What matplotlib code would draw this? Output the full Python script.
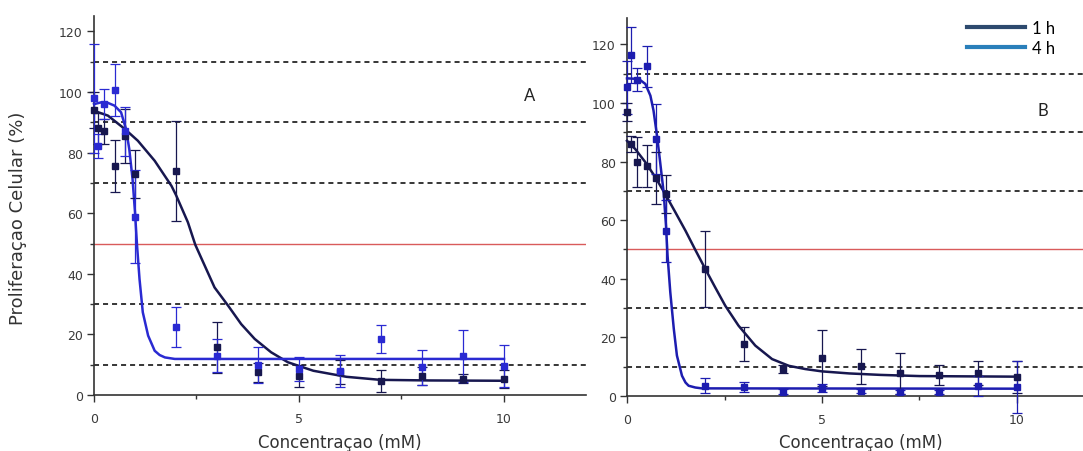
import matplotlib
matplotlib.use("Agg")
import matplotlib.pyplot as plt
from matplotlib.lines import Line2D
from matplotlib.ticker import MultipleLocator

# ---------------- data ----------------
conc = [0, 0.1, 0.25, 0.5, 0.75, 1, 2, 3, 4, 5, 6, 7, 8, 9, 10]

# Panel A
a_1h_y = [94, 88, 87, 75.5, 85.5, 73, 74, 15.7, 7.5, 6.3, 7.6, 4.6, 6.3, 5.3, 5.3]
a_1h_err = [6, 5, 4, 8.5, 9, 8, 16.5, 8.5, 3.2, 3.5, 4, 3.5, 3, 1.5, 3]
a_4h_y = [98, 82.3, 96, 100.7, 87, 58.9, 22.4, 13, 9.9, 8.6, 7.9, 18.5, 9.2, 12.8, 9.6]
a_4h_err = [18, 4, 5, 8.5, 8, 15.5, 6.5, 5.5, 5.8, 4, 5.3, 4.5, 5.8, 8.5, 7]

a_1h_fit_x = [0, 0.34, 0.75, 1.07, 1.48, 1.89, 2.0, 2.29, 2.47, 2.7, 2.94, 3.27,
              3.59, 3.92, 4.32, 4.73, 5.35, 6.16, 6.98, 8.2, 10]
a_1h_fit_y = [93.8, 92.2, 87.8, 83.9, 77.3, 69, 66, 57, 49.6, 42.7, 35.5, 29.5,
              23.4, 18.5, 14.1, 10.8, 8, 6, 5, 4.8, 4.7]
a_4h_fit_x = [0, 0.18, 0.34, 0.5, 0.66, 0.78, 0.86, 0.94, 1.0, 1.05, 1.11, 1.19,
              1.32, 1.48, 1.6, 1.73, 1.97, 10]
a_4h_fit_y = [96, 96.6, 96.4, 95.5, 93.3, 87.8, 81.2, 71.3, 60.3, 49.3, 38.3, 27.3,
              19.6, 14.6, 13.2, 12.4, 11.9, 11.9]

# Panel B
b_1h_y = [97, 86, 79.8, 78.4, 74.3, 69, 43.3, 17.7, 9.2, 12.9, 10.2, 7.8, 7.2, 7.8, 6.5]
b_1h_err = [3, 2.8, 8.5, 7.2, 8.8, 6.5, 13, 5.7, 1.5, 9.5, 6, 7, 3.5, 4, 5.5]
b_4h_y = [105.4, 116.4, 108, 112.5, 87.7, 56.4, 3.5, 3, 1.5, 2.7, 1.7, 1.4, 1.4, 3.4, 3.1]
b_4h_err = [9, 9.5, 4, 7, 12, 10.5, 2.5, 1.7, 0.8, 1.5, 0.8, 0.8, 0.8, 3.4, 9]

b_1h_fit_x = [0, 0.21, 0.47, 0.73, 0.98, 1.24, 1.5, 1.75, 2.01, 2.26, 2.52, 2.86,
              3.29, 3.72, 4.15, 4.57, 5.0, 5.7, 6.5, 7.5, 10]
b_1h_fit_y = [87.1, 84.3, 79.8, 74.6, 68.9, 62.7, 56.4, 49.9, 43.3, 37.1, 30.8, 24,
              17.2, 12.6, 10.3, 9.2, 8.4, 7.7, 7.2, 6.8, 6.6]
b_4h_fit_x = [0, 0.3, 0.47, 0.6, 0.68, 0.77, 0.85, 0.94, 1.0, 1.04, 1.11, 1.2,
              1.28, 1.41, 1.5, 1.58, 1.75, 1.92, 10]
b_4h_fit_y = [108.4, 108.2, 106.5, 102.5, 97.4, 88.8, 79.8, 69.5, 58.1, 47.9, 35.4, 22.9,
              13.8, 6.9, 4.6, 3.5, 2.9, 2.6, 2.5]

ref_dashed = [110, 90, 70, 30, 10]
ref_red = 50
y_ticks = [0, 20, 40, 60, 80, 100, 120]
x_ticks = [0, 5, 10]
legend_labels = ["1 h", "4 h"]
panel_labels = ["A", "B"]
xlabel = "Concentraçao (mM)"
ylabel = "Proliferaçao Celular (%)"

# ---------------- styles ----------------
W, H = 1083, 452
C_1H = "#17174f"
C_4H_A = "#2a2ad2"
C_4H_B = "#1d1db0"
AX_C = "#333333"

plt.rcParams["font.family"] = ["DejaVu Sans"]

fig = plt.figure(figsize=(W / 100, H / 100), dpi=100)
axA = fig.add_axes([94 / W, (H - 396) / H, 492 / W, 378.75 / H])
axB = fig.add_axes([627 / W, (H - 397) / H, 468 / W, 378.0 / H])


def style_axes(ax, ymax):
    ax.set_xlim(0, 12)
    ax.set_ylim(0, ymax)
    for s in ["top", "right"]:
        ax.spines[s].set_visible(False)
    for s in ["left", "bottom"]:
        ax.spines[s].set_color(AX_C)
        ax.spines[s].set_linewidth(1.2)
    ax.set_xticks(x_ticks)
    ax.set_yticks(y_ticks)
    ax.xaxis.set_minor_locator(MultipleLocator(2.5))
    ax.yaxis.set_minor_locator(MultipleLocator(10))
    ax.tick_params(axis="both", which="major", direction="out", length=5,
                   width=1.0, color=AX_C, labelsize=9, labelcolor="#3a3a3a")
    ax.tick_params(axis="x", which="major", pad=7)
    ax.tick_params(axis="y", which="major", pad=3)
    ax.tick_params(axis="both", which="minor", direction="out", length=3,
                   width=1.0, color=AX_C)
    for yv in ref_dashed:
        ax.axhline(yv, color="black", lw=1.1, ls=(0, (3.3, 2.6)), zorder=1)
    ax.axhline(ref_red, color="#d95b5b", lw=1.0, zorder=1)


def draw_series(ax, y, err, fx, fy, color):
    ax.plot(fx, fy, color=color, lw=1.8, zorder=3, clip_on=False)
    ax.errorbar(conc, y, yerr=err, fmt="s", ms=3.8, color=color, ecolor=color,
                elinewidth=0.9, capsize=3.5, capthick=0.9, zorder=4, clip_on=False)


style_axes(axA, 125)
style_axes(axB, 129)

draw_series(axA, a_1h_y, a_1h_err, a_1h_fit_x, a_1h_fit_y, C_1H)
draw_series(axA, a_4h_y, a_4h_err, a_4h_fit_x, a_4h_fit_y, C_4H_A)
draw_series(axB, b_1h_y, b_1h_err, b_1h_fit_x, b_1h_fit_y, C_1H)
draw_series(axB, b_4h_y, b_4h_err, b_4h_fit_x, b_4h_fit_y, C_4H_B)

axA.text(10.63, 99, panel_labels[0], ha="center", va="center",
         fontsize=12, family="Lato", color="#222222")
axB.text(10.67, 97.6, panel_labels[1], ha="center", va="center",
         fontsize=12, family="Lato", color="#222222")

for ax, ylo in ((axA, -47 / 378.75), (axB, -46 / 378.0)):
    ax.set_xlabel(xlabel, fontsize=12, color="#333333")
    ax.xaxis.label.set_va("center")
    ax.xaxis.set_label_coords(0.5, ylo)

axA.set_ylabel(ylabel, fontsize=13, color="#333333")
axA.yaxis.label.set_va("center")
axA.yaxis.set_label_coords((18 - 94) / 492, (396 - 218) / 378.75)

handles = [Line2D([], [], color="#2d4a6e", lw=3),
           Line2D([], [], color="#2a7fba", lw=3)]
fig.legend(handles, legend_labels, loc="upper left",
           bbox_to_anchor=(967 / W, 1 - 21 / H), frameon=False,
           borderpad=0, borderaxespad=0, handlelength=3.5, handletextpad=0.4,
           labelspacing=0.25, prop={"family": "Lato", "size": 12})

fig.savefig("out.png", dpi=100)
